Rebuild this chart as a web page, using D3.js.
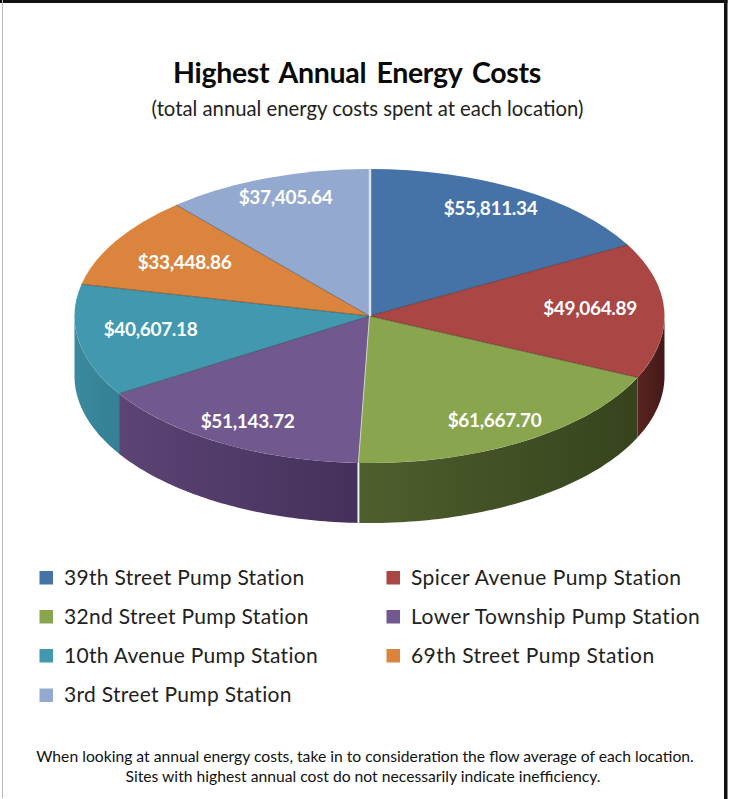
<!DOCTYPE html>
<html><head><meta charset="utf-8">
<script src="https://cdn.jsdelivr.net/npm/d3@7"></script>
<style>html,body{margin:0;padding:0;background:#fff}svg{display:block}text{font-family:Lato,"Open Sans",sans-serif}</style>
</head><body><svg id="c" width="730" height="799"></svg>
<script>
const categories=["39th Street Pump Station","Spicer Avenue Pump Station","32nd Street Pump Station","Lower Township Pump Station","10th Avenue Pump Station","69th Street Pump Station","3rd Street Pump Station"];
const values=[55811.34,49064.89,61667.70,51143.72,40607.18,33448.86,37405.64];
const colors=["#4572a7","#aa4643","#89a54e","#71588f","#4198af","#db843d","#93a9cf"];
const sideLight=["#35567e","#5a2422","#4f5f2e","#5c4475","#3a8a9f","#a8642e","#7080a0"];
const sideDark=["#35567e","#431917","#36431d","#44305a","#347f93","#a8642e","#7080a0"];
const labelPos=[[490.5,208],[590,308],[494.5,420],[247.5,421],[150.5,329],[184.5,262],[285.5,197]];
const legendPos=[[39.5,577.5],[386.5,577.5],[39.5,616.5],[386.5,616.5],[39.5,655.5],[386.5,655.5],[39.5,695]];

const svg=d3.select("#c");
const W=730,H=799,cx=369.5,cy=316,rx=295,ry=147,depth=60;
svg.append("rect").attr("width",W).attr("height",H).attr("fill","#fff");
const defs=svg.append("defs");
const pie=d3.pie().value(d=>d).sort(null);
const arcs=pie(values);
const px=a=>cx+rx*Math.sin(a), py=a=>cy-ry*Math.cos(a);

// side walls (only the front half of the ellipse is visible)
const lo=Math.PI/2, hi=Math.PI*1.5;
const wall=d3.line().x(d=>d[0]).y(d=>d[1]);
arcs.forEach((d,i)=>{
  const a0=Math.max(d.startAngle,lo),a1=Math.min(d.endAngle,hi);
  if(a1<=a0)return;
  const n=60,as=d3.range(n+1).map(k=>a0+(a1-a0)*k/n);
  const top=as.map(a=>[px(a),py(a)]);
  const bot=as.slice().reverse().map(a=>[px(a),py(a)+depth]);
  const g=defs.append("linearGradient").attr("id","w"+i).attr("gradientUnits","userSpaceOnUse")
    .attr("x1",px(a1)).attr("x2",px(a0)).attr("y1",0).attr("y2",0);
  g.append("stop").attr("offset",0).attr("stop-color",sideLight[i]);
  g.append("stop").attr("offset",1).attr("stop-color",sideDark[i]);
  svg.append("path").attr("d",wall(top.concat(bot))+"Z").attr("fill","url(#w"+i+")");
});
// top face: d3.arc in a circle, squashed into the ellipse
const arc=d3.arc().innerRadius(0).outerRadius(rx);
svg.append("g").attr("transform",`translate(${cx},${cy}) scale(1,${ry/rx})`)
  .selectAll("path").data(arcs).join("path").attr("d",arc).attr("fill",(d,i)=>colors[i]);
// thin dark seams between slices
arcs.forEach((d,i)=>{
  if(i==0||i==3)return;
  svg.append("line").attr("x1",cx).attr("y1",cy).attr("x2",px(d.startAngle)).attr("y2",py(d.startAngle))
   .attr("stroke","#000").attr("stroke-opacity",.35).attr("stroke-width",1);
});
// pale seams
svg.append("line").attr("x1",cx+.5).attr("y1",cy).attr("x2",cx+.5).attr("y2",cy-ry).attr("stroke","#dfe3e8").attr("stroke-width",2.5);
const a3=arcs[3].startAngle;
svg.append("line").attr("x1",cx).attr("y1",cy).attr("x2",px(a3)).attr("y2",py(a3)).attr("stroke","#cfd5c4").attr("stroke-width",1);
svg.append("line").attr("x1",px(a3)).attr("y1",py(a3)).attr("x2",px(a3)).attr("y2",py(a3)+depth).attr("stroke","#eee").attr("stroke-width",2);

// data labels
const fmt=d3.format("$,.2f");
svg.append("g").selectAll("text").data(values).join("text")
 .attr("x",(d,i)=>labelPos[i][0]).attr("y",(d,i)=>labelPos[i][1]).attr("dy","0.35em")
 .attr("text-anchor","middle").attr("fill","#fff").attr("font-weight",700).attr("font-size",19).attr("letter-spacing",-.35).text(d=>fmt(d));

// titles
svg.append("text").attr("x",357).attr("y",83).attr("text-anchor","middle").attr("font-weight",700).attr("font-size",28.5).attr("letter-spacing",-.3).attr("word-spacing",3.5).attr("fill","#0a0a0a").text("Highest Annual Energy Costs");
svg.append("text").attr("x",367.5).attr("y",116).attr("text-anchor","middle").attr("font-size",20.3).attr("fill","#222").text("(total annual energy costs spent at each location)");

// legend
const lg=svg.append("g").selectAll("g").data(categories).join("g").attr("transform",(d,i)=>`translate(${legendPos[i][0]},${legendPos[i][1]})`);
lg.append("rect").attr("y",-6.5).attr("width",13.5).attr("height",13.5).attr("fill",(d,i)=>colors[i]);
lg.append("text").attr("x",24.5).attr("dy","0.35em").attr("font-size",21).attr("letter-spacing",(d,i)=>i%2?.43:.3).attr("fill","#222").text(d=>d);

// footnote
svg.append("text").attr("x",365).attr("y",762).attr("text-anchor","middle").attr("font-size",15.7).attr("fill","#111").text("When looking at annual energy costs, take in to consideration the flow average of each location.");
svg.append("text").attr("x",363).attr("y",782).attr("text-anchor","middle").attr("font-size",15.7).attr("fill","#111").text("Sites with highest annual cost do not necessarily indicate inefficiency.");

// frame
svg.append("rect").attr("x",0).attr("y",0).attr("width",727.5).attr("height",3).attr("fill","#111");
svg.append("rect").attr("x",724).attr("y",0).attr("width",3.5).attr("height",H).attr("fill","#111");
svg.append("rect").attr("x",2).attr("y",0).attr("width",1).attr("height",H-1).attr("fill","#bbb");
</script></body></html>
